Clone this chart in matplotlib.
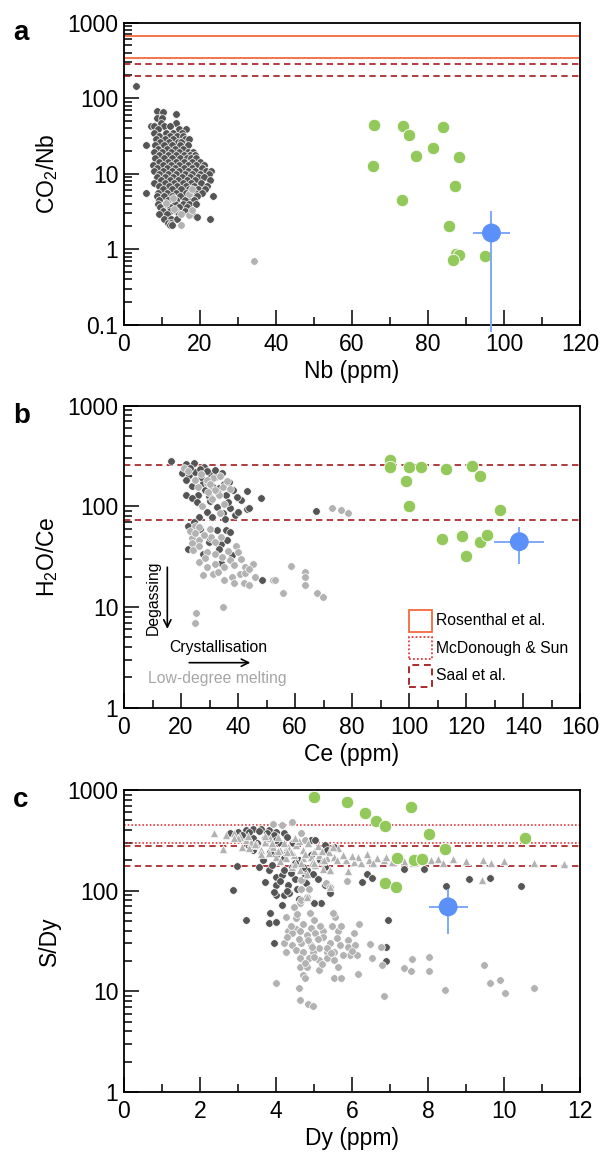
import matplotlib
matplotlib.use('Agg')
import matplotlib.pyplot as plt
from matplotlib.ticker import MultipleLocator, LogLocator, NullFormatter, FixedLocator, FixedFormatter
from matplotlib.patches import Rectangle

plt.rcParams['font.family'] = ['Liberation Sans', 'DejaVu Sans']
plt.rcParams['mathtext.fontset'] = 'custom'
plt.rcParams['mathtext.rm'] = 'Liberation Sans'

# ---------------- colours ----------------
DARK = '#555555'
LIGHT = '#b2b2b2'
GREEN = '#93c95b'
BLUE = '#5b90f8'
BLUE_BAR = '#7ea8f8'
ROSENTHAL = '#f26a3d'
MCDONOUGH = '#e8383d'
SAAL = '#a3191d'

# ---------------- panel a : CO2/Nb vs Nb ----------------
a_dark_x = [3.2, 8.7, 10.3, 13.7, 8.7, 10.0, 9.7, 13.7, 7.0, 8.0, 10.5, 12.0, 9.0, 14.5, 16.4,
            8.0, 11.0, 13.0, 15.2, 9.3, 12.0, 14.0, 15.5, 8.5, 10.8, 13.0, 16.0, 17.2,
            9.5, 11.8, 14.2, 15.0, 5.9, 8.2, 10.5, 12.7, 14.8, 16.8, 9.0, 11.2, 13.4, 15.6,
            8.0, 10.0, 12.3, 14.5, 16.8, 18.2, 9.2, 11.5, 13.6, 15.8, 17.4, 18.8,
            8.2, 10.5, 12.6, 14.8, 16.6, 17.5, 19.0, 9.3, 11.5, 13.7, 15.9, 18.0, 20.0,
            7.5, 10.2, 12.4, 14.6, 16.8, 19.0, 21.0, 8.6, 11.3, 13.5, 15.7, 17.9, 20.4,
            8.0, 10.3, 12.5, 14.6, 16.8, 18.8, 21.6, 23.0, 9.2, 11.6, 13.8, 16.0, 18.0, 20.0, 22.3,
            8.6, 10.8, 13.0, 15.2, 17.4, 19.5, 21.0, 9.8, 12.0, 14.2, 16.5, 18.6, 22.5,
            8.0, 10.8, 13.2, 15.5, 17.6, 20.3, 9.2, 11.8, 14.0, 16.3, 18.5, 21.8,
            10.2, 12.6, 15.0, 17.0, 19.6, 21.2, 5.9, 9.0, 11.3, 13.6, 16.2, 18.8, 20.5,
            8.6, 10.4, 12.5, 14.8, 17.3, 19.2, 23.3, 9.3, 11.6, 13.8, 16.0, 18.5,
            8.9, 11.0, 13.3, 15.5, 17.0, 19.0, 9.5, 12.2, 14.5, 16.5, 10.3, 12.0, 13.8, 16.0,
            9.2, 11.4, 14.5, 17.8, 19.3, 10.6, 12.3, 14.0, 22.6, 11.5, 12.4, 12.0, 12.7]
a_dark_y = [143, 68, 65, 61, 55, 55, 47, 47, 43, 43, 43, 43, 39, 39, 39,
            35, 35, 35, 35, 32, 32, 32, 32, 29, 29, 29, 29, 29,
            26, 26, 26, 26, 24, 24, 24, 24, 24, 24, 21.5, 21.5, 21.5, 21.5,
            19.5, 19.5, 19.5, 19.5, 19.5, 19.5, 17.5, 17.5, 17.5, 17.5, 17.5, 17.5,
            16, 16, 16, 16, 16, 16, 16, 14.5, 14.5, 14.5, 14.5, 14.5, 14.5,
            13, 13, 13, 13, 13, 13, 13, 12, 12, 12, 12, 12, 12,
            11, 11, 11, 11, 11, 11, 11, 11, 10, 10, 10, 10, 10, 10, 10,
            9.0, 9.0, 9.0, 9.0, 9.0, 9.0, 9.0, 8.2, 8.2, 8.2, 8.2, 8.2, 8.2,
            7.5, 7.5, 7.5, 7.5, 7.5, 7.5, 6.8, 6.8, 6.8, 6.8, 6.8, 6.8,
            6.2, 6.2, 6.2, 6.2, 6.2, 6.2, 5.6, 5.6, 5.6, 5.6, 5.6, 5.6, 5.6,
            5.0, 5.0, 5.0, 5.0, 5.0, 5.0, 5.0, 4.5, 4.5, 4.5, 4.5, 4.5,
            4.0, 4.0, 4.0, 4.0, 4.0, 4.0, 3.6, 3.6, 3.6, 3.6, 3.2, 3.2, 3.2, 3.2,
            2.9, 2.9, 2.9, 2.9, 2.7, 2.5, 2.5, 2.5, 2.5, 2.2, 2.2, 2.1, 2.1]
a_light_x = [11.0, 13.0, 13.1, 17.0, 17.8, 15.0, 17.0, 15.0, 17.9, 34.3]
a_light_y = [4.1, 4.7, 3.4, 5.4, 6.2, 2.9, 2.8, 2.1, 3.3, 0.70]
a_green_x = [65.8, 65.5, 73.3, 75.1, 83.9, 81.2, 76.9, 88.2, 87.1, 73.1, 85.6, 87.3, 88.2, 86.7, 95.0]
a_green_y = [44.4, 12.7, 42.2, 32.7, 41.4, 21.6, 16.9, 16.4, 6.8, 4.5, 2.05, 0.86, 0.83, 0.73, 0.81]
a_blue_x, a_blue_y = 96.7, 1.64
a_blue_xerr = (4.8, 5.0)
a_blue_yerr = (0.079, 3.18)
a_rosenthal = [338, 676]
a_saal = [194, 287]

# ---------------- panel b : H2O/Ce vs Ce ----------------
b_dark_x = [16.5, 21.9, 24.6, 28.1, 20.3, 22.7, 25.0, 30.4, 31.8, 21.9, 27.7, 37.0, 33.2, 38.3, 43.3,
            21.9, 26.0, 29.8, 35.9, 41.0, 48.0, 23.7, 32.5, 37.2, 43.0, 29.1, 26.4, 34.9, 38.8, 67.5,
            22.3, 32.7, 35.9, 37.2, 29.8, 32.9, 34.1, 22.3, 27.7, 34.2, 48.4,
            23.0, 26.5, 29.0, 32.0, 34.5, 27.0, 24.0, 31.0, 35.0, 28.5, 33.0, 39.5, 25.5, 30.0,
            36.5, 44.0, 31.0, 35.5, 40.0, 24.5, 30.0, 36.0, 26.5, 25.0, 33.5, 38.0]
b_dark_y = [284, 261, 267, 244, 216, 205, 220, 205, 194, 183, 172, 175, 151, 145, 142,
            130, 130, 127, 130, 117, 120, 120, 99, 97, 95, 87, 79, 85, 82, 90,
            64, 58, 58, 56, 44, 42, 42, 38, 34, 27.5, 18.4,
            240, 235, 225, 230, 215, 195, 160, 160, 165, 145, 135, 125, 110, 112,
            110, 96, 78, 75, 88, 70, 48, 46, 60, 42, 38, 33]
b_light_x = [21.0, 25.0, 29.1, 31.1, 33.8, 29.1, 34.8, 37.2, 33.2, 33.8, 24.8, 26.4, 23.7, 26.4, 30.4,
             34.2, 23.7, 24.1, 26.4, 29.1, 31.8, 34.5, 39.2, 39.9, 37.2, 26.4, 29.1, 31.8, 35.2, 38.6,
             42.6, 45.3, 27.7, 31.1, 35.2, 37.9, 40.6, 42.6, 38.6, 42.0, 44.0, 46.0, 52.4, 53.1, 58.5,
             63.5, 63.5, 63.5, 55.9, 67.6, 69.8, 73.1, 76.0, 78.7, 25.2, 25.0, 34.7, 28.0,
             22.5, 27.0, 30.0, 36.0, 32.0, 26.0, 29.5, 31.0, 35.0, 27.5, 23.0, 25.0, 30.0, 32.0,
             36.5, 28.5, 41.0, 33.0, 44.0]
b_light_y = [238, 183, 169, 190, 200, 183, 155, 150, 130, 85, 64, 62.5, 48, 46, 50,
             50, 43, 37, 40, 35.5, 34, 31.6, 40, 35.5, 29.4, 28, 25, 27, 25, 26,
             25, 27, 20.8, 21.5, 18.6, 20, 21.5, 22, 17.2, 17.2, 16.7, 20, 18.5, 18.6, 25.8,
             22.4, 20.0, 16.5, 13.9, 13.7, 12.5, 97, 92, 86.5, 8.8, 7.0, 10.1, 52,
             225, 210, 165, 180, 145, 155, 140, 118, 105, 100, 57, 55, 60, 44,
             36, 31, 30, 22.5, 24]
b_green_x = [93.4, 93.4, 99.9, 104.2, 113.0, 122.0, 124.9, 99.1, 100.1, 131.9, 111.6, 118.7, 124.9, 127.3, 119.9]
b_green_y = [288, 244, 244, 248, 237, 252, 202, 180, 101, 93, 47.3, 51.1, 44.2, 51.5, 32.1]
b_blue_x, b_blue_y = 138.7, 44.6
b_blue_xerr = (8.8, 8.8)
b_blue_yerr = (26.5, 63)
b_saal = [73, 260]

# ---------------- panel c : S/Dy vs Dy ----------------
c_dark_x = [2.86, 2.97, 3.21, 3.94, 3.81, 3.99, 3.84, 6.95, 6.90, 6.90, 8.48, 9.07, 9.62, 10.44, 7.36,
            7.90, 6.27, 6.40, 6.53, 5.41, 5.18, 5.00, 4.16, 4.01, 4.21, 4.31, 4.01, 3.71, 4.01, 4.16,
            3.81, 4.21, 4.42, 3.56, 3.65, 4.01, 3.40, 3.20, 3.40, 3.60, 3.81, 4.01, 4.21, 3.00, 2.79,
            3.20, 3.40, 3.81, 4.11, 4.92, 5.03, 5.28, 5.53, 5.35, 4.92, 4.82, 4.97, 5.15, 5.28,
            3.50, 3.90, 4.30, 4.60, 3.90, 4.50, 4.35, 4.60,
            3.30, 3.55, 3.75, 3.95, 3.10, 3.70, 4.30, 4.45, 4.00, 3.30, 3.85, 4.20, 4.50, 4.70,
            4.40, 4.75, 4.10, 4.30, 4.55, 3.95, 5.10, 5.30, 4.80]
c_dark_y = [101, 177, 51, 30, 48, 49, 60, 51, 27.7, 20, 111, 130, 134, 111, 164,
            163, 121, 148, 134, 95, 75, 75, 72, 90, 90, 113, 113, 123, 138, 143,
            160, 160, 173, 173, 201, 226, 253, 400, 412, 406, 400, 385, 370, 385, 370,
            344, 332, 344, 295, 318, 318, 284, 274, 253, 226, 160, 148, 201, 173,
            300, 270, 250, 200, 180, 130, 95, 82,
            380, 395, 370, 360, 360, 330, 340, 300, 320, 280, 240, 210, 190, 170,
            150, 140, 125, 100, 105, 98, 130, 115, 120]
c_light_x = [3.93, 4.16, 4.42, 4.67, 4.75, 4.67, 4.67, 4.88, 4.82, 4.62, 4.47, 4.67, 5.87, 5.32, 5.43,
             4.26, 4.52, 4.72, 4.52, 4.31, 4.92, 5.00, 5.23, 5.48, 5.56, 5.63, 5.89, 6.19, 4.42, 4.62,
             4.82, 5.03, 5.23, 5.43, 4.21, 4.42, 4.67, 4.92, 5.13, 5.69, 5.89, 6.09, 4.26, 4.52, 4.72,
             4.97, 5.33, 5.53, 5.94, 6.14, 4.62, 4.87, 5.13, 5.33, 4.62, 4.82, 5.13, 5.53, 5.63, 4.72,
             4.77, 5.53, 5.72, 6.16, 6.47, 6.53, 6.75, 6.80, 7.36, 7.56, 7.58, 8.02, 8.02, 9.47, 9.62,
             9.90, 10.02, 10.79, 8.46, 6.85, 4.01, 4.60, 4.62, 4.84, 4.97,
             4.40, 4.60, 4.85, 5.10, 5.35, 5.60, 5.00, 5.20, 4.75, 5.45, 5.75, 6.00, 4.95, 4.30,
             5.70, 5.15, 4.55, 4.90, 5.50, 6.05]
c_light_y = [456, 450, 484, 375, 318, 127, 105, 103, 87, 75, 69, 80, 124, 118, 109,
             55, 53, 47, 42, 40, 43, 51, 40, 45, 55, 40, 32, 47, 37.6, 40,
             36, 37.6, 35, 30, 30, 29, 30, 29, 26.7, 29, 27.8, 29, 24.7, 25.6, 24.7,
             24.7, 24.7, 24.7, 22.9, 22.9, 21.2, 21.2, 20.3, 21.2, 17.5, 17.5, 16.2, 20.3, 17.5, 14.5,
             13.5, 13.6, 13.6, 14.7, 29.4, 21.2, 27.7, 18.2, 16.9, 15.9, 20.9, 21.7, 15.9, 18.2, 12.0,
             13.1, 9.7, 10.7, 10.2, 9.0, 12.1, 10.9, 8.2, 7.4, 7.1,
             45, 33, 32, 33, 27, 34, 22, 18.5, 19, 24, 23, 25, 27.5, 35,
             45, 45, 58, 60, 60, 38]
c_tri_x = [2.37, 2.61, 2.69, 2.90, 3.05, 3.20, 3.35, 3.10, 3.30, 3.50, 3.71, 3.91, 4.11, 4.31, 4.52,
           4.72, 3.60, 3.81, 4.01, 4.26, 4.47, 4.72, 4.92, 5.13, 5.33, 5.63, 5.53, 5.84, 6.04, 6.24,
           6.45, 6.65, 6.85, 7.06, 7.36, 4.42, 4.62, 4.82, 5.03, 5.23, 5.43, 5.43, 4.82, 5.89, 8.07,
           8.27, 8.65, 9.46, 9.67, 9.42, 11.58, 3.00, 3.45, 3.85, 4.20, 4.60, 5.00, 5.40, 5.75, 6.15,
           6.55, 7.20, 7.60, 3.60, 4.05, 4.40, 4.95, 5.20, 4.10, 4.50,
           3.25, 3.70, 4.05, 4.50, 4.85, 5.10, 5.50, 3.90, 4.30, 4.75, 5.20, 5.60, 6.00, 6.40,
           6.90, 7.80, 8.40, 9.00, 10.00, 10.80, 2.90, 4.65, 5.00, 5.25]
c_tri_y = [371, 257, 357, 371, 344, 318, 307, 274, 264, 284, 307, 274, 253, 274, 284,
           253, 253, 234, 217, 209, 226, 209, 217, 226, 209, 264, 217, 201, 193, 187,
           201, 209, 201, 193, 197, 173, 160, 148, 179, 166, 160, 109, 87, 158, 201,
           204, 204, 201, 190, 129, 184, 330, 290, 330, 300, 310, 245, 240, 225, 215,
           190, 205, 190, 230, 250, 240, 190, 195, 195, 185,
           350, 350, 340, 330, 300, 280, 270, 295, 240, 230, 245, 200, 220, 230,
           215, 195, 190, 195, 195, 190, 330, 190, 190, 200]
c_green_x = [5.00, 5.88, 6.35, 6.62, 6.87, 7.56, 8.02, 8.46, 10.55, 7.18, 7.64, 7.83, 6.87, 7.16]
c_green_y = [845, 760, 595, 496, 442, 672, 362, 261, 330, 212, 201, 207, 118, 109]
c_blue_x, c_blue_y = 8.53, 69
c_blue_xerr = (0.51, 0.53)
c_blue_yerr = (36.7, 105)
c_mcdonough = [300, 450]
c_saal = [177, 275]

# ---------------- figure ----------------
W, H = 602, 1161
fig = plt.figure(figsize=(W / 100, H / 100), dpi=100)
left, width = 124 / W, 456 / W
ph = 302 / H
tops = [22.7, 405.7, 790]
axs = [fig.add_axes([left, 1 - (t + 302) / H, width, ph]) for t in tops]

TICK_FS = 16.5
LAB_FS = 16.5
DASH = (0, (3.8, 2.6))
DOT = (0, (1, 1.2))
SMALL = 30


def style(ax, xmax, xmajor, xminor, ymin, yticks, ylabels):
    ax.set_xlim(0, xmax)
    ax.set_yscale('log')
    ax.set_ylim(ymin, 1000)
    ax.xaxis.set_major_locator(MultipleLocator(xmajor))
    ax.xaxis.set_minor_locator(MultipleLocator(xminor))
    ax.yaxis.set_major_locator(FixedLocator(yticks))
    ax.yaxis.set_major_formatter(FixedFormatter(ylabels))
    ax.yaxis.set_minor_locator(LogLocator(base=10, subs=[2, 3, 4, 5, 6, 7, 8, 9], numticks=20))
    ax.yaxis.set_minor_formatter(NullFormatter())
    ax.tick_params(which='both', direction='in', top=False, right=False, width=1.1,
                   labelsize=TICK_FS, color='black')
    ax.tick_params(which='major', length=11)
    ax.tick_params(which='minor', length=5.5)
    ax.tick_params(axis='x', which='major', pad=6)
    ax.tick_params(axis='y', which='major', pad=4)
    for s in ax.spines.values():
        s.set_linewidth(1.3)


def points(ax, dx, dy, lx, ly, gx, gy, bx, by, bxe, bye):
    ax.scatter(dx, dy, s=SMALL, c=DARK, edgecolors='white', linewidths=0.5, zorder=3)
    ax.scatter(lx, ly, s=SMALL, c=LIGHT, edgecolors='white', linewidths=0.5, zorder=3)
    ax.scatter(gx, gy, s=80, c=GREEN, edgecolors='white', linewidths=0.6, zorder=5)
    ax.errorbar([bx], [by], xerr=[[bxe[0]], [bxe[1]]],
                yerr=[[by - bye[0]], [bye[1] - by]], fmt='none', ecolor=BLUE_BAR,
                elinewidth=1.4, capsize=0, zorder=6, clip_on=False)
    ax.scatter([bx], [by], s=185, c=BLUE, edgecolors='none', zorder=7)


# panel a
ax = axs[0]
style(ax, 120, 20, 10, 0.1, [0.1, 1, 10, 100, 1000], ['0.1', '1', '10', '100', '1000'])
for v in a_rosenthal:
    ax.axhline(v, color=ROSENTHAL, lw=1.3, zorder=2)
for v in a_saal:
    ax.axhline(v, color=SAAL, lw=1.2, ls=DASH, zorder=2)
points(ax, a_dark_x, a_dark_y, a_light_x, a_light_y, a_green_x, a_green_y,
       a_blue_x, a_blue_y, a_blue_xerr, a_blue_yerr)
ax.set_xlabel('Nb (ppm)', fontsize=LAB_FS, labelpad=3)
ax.set_ylabel(r'CO$\mathregular{_2}$/Nb', fontsize=LAB_FS, labelpad=5)

# panel b
ax = axs[1]
style(ax, 160, 20, 10, 1, [1, 10, 100, 1000], ['1', '10', '100', '1000'])
for v in b_saal:
    ax.axhline(v, color=SAAL, lw=1.2, ls=DASH, zorder=2)
points(ax, b_dark_x, b_dark_y, b_light_x, b_light_y, b_green_x, b_green_y,
       b_blue_x, b_blue_y, b_blue_xerr, b_blue_yerr)
ax.set_xlabel('Ce (ppm)', fontsize=LAB_FS, labelpad=3)
ax.set_ylabel(r'H$\mathregular{_2}$O/Ce', fontsize=LAB_FS, labelpad=5)
# annotations
ax.text(10.4, 12.5, 'Degassing', rotation=90, fontsize=11.3, ha='center', va='center')
ax.annotate('', xy=(15.2, 5.7), xytext=(15.2, 26.5),
            arrowprops=dict(arrowstyle='->', color='black', lw=1.2, mutation_scale=13))
ax.text(16.0, 3.95, 'Crystallisation', fontsize=11.3, ha='left', va='center')
ax.annotate('', xy=(45.3, 2.8), xytext=(21.9, 2.8),
            arrowprops=dict(arrowstyle='->', color='black', lw=1.2, mutation_scale=13))
ax.text(8.5, 1.95, 'Low-degree melting', fontsize=11.3, ha='left', va='center', color='#a6a6a6')
# legend
leg = [('Rosenthal et al.', ROSENTHAL, '-', 0.288),
       ('McDonough & Sun', MCDONOUGH, DOT, 0.197),
       ('Saal et al.', SAAL, DASH, 0.106)]
for lab, col, ls, yc in leg:
    ax.add_patch(Rectangle((0.624, yc - 0.036), 0.051, 0.072, transform=ax.transAxes,
                           facecolor='white', edgecolor=col, lw=1.3, ls=ls, zorder=8))
    ax.text(0.684, yc, lab, transform=ax.transAxes, fontsize=11.3, ha='left', va='center')

# panel c
ax = axs[2]
style(ax, 12, 2, 1, 1, [1, 10, 100, 1000], ['1', '10', '100', '1000'])
for v in c_mcdonough:
    ax.axhline(v, color=MCDONOUGH, lw=1.2, ls=DOT, zorder=2)
for v in c_saal:
    ax.axhline(v, color=SAAL, lw=1.2, ls=DASH, zorder=2)
ax.scatter(c_dark_x, c_dark_y, s=SMALL, c=DARK, edgecolors='white', linewidths=0.5, zorder=3)
ax.scatter(c_light_x, c_light_y, s=SMALL, c=LIGHT, edgecolors='white', linewidths=0.5, zorder=3)
ax.scatter(c_tri_x, c_tri_y, s=36, marker='^', c=LIGHT, edgecolors='white', linewidths=0.5, zorder=4)
ax.scatter(c_green_x, c_green_y, s=80, c=GREEN, edgecolors='white', linewidths=0.6, zorder=5)
ax.errorbar([c_blue_x], [c_blue_y], xerr=[[c_blue_xerr[0]], [c_blue_xerr[1]]],
            yerr=[[c_blue_y - c_blue_yerr[0]], [c_blue_yerr[1] - c_blue_y]], fmt='none',
            ecolor=BLUE_BAR, elinewidth=1.4, capsize=0, zorder=6)
ax.scatter([c_blue_x], [c_blue_y], s=185, c=BLUE, edgecolors='none', zorder=7)
ax.set_xlabel('Dy (ppm)', fontsize=LAB_FS, labelpad=3)
ax.set_ylabel('S/Dy', fontsize=LAB_FS, labelpad=5)

# panel letters
for lab, t in zip(['a', 'b', 'c'], tops):
    fig.text(13 / W, 1 - (t + 17) / H, lab, fontsize=20, fontweight='bold', ha='left', va='baseline')

fig.savefig('out.png', dpi=100)
